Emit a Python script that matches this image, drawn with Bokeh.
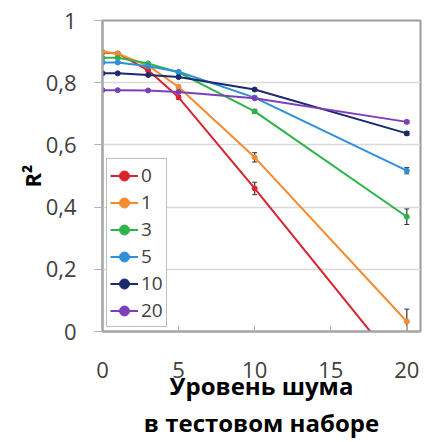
from bokeh.plotting import figure
from bokeh.models import Range1d, FixedTicker, CustomJSTickFormatter, Legend, LegendItem, Whisker, ColumnDataSource
from bokeh.embed import file_html
from bokeh.resources import INLINE

noise = [0, 1, 3, 5, 10, 20]
series_names = ["0", "1", "3", "5", "10", "20"]
r2_0 = [0.897, 0.894, 0.84, 0.753, 0.46, -0.145]
r2_1 = [0.900, 0.893, 0.855, 0.786, 0.56, 0.032]
r2_3 = [0.880, 0.880, 0.862, 0.833, 0.708, 0.369]
r2_5 = [0.865, 0.865, 0.853, 0.835, 0.752, 0.517]
r2_10 = [0.830, 0.830, 0.825, 0.818, 0.778, 0.637]
r2_20 = [0.776, 0.776, 0.775, 0.770, 0.750, 0.674]
err_0 = [0.003, 0.003, 0.004, 0.006, 0.02, 0.03]
err_1 = [0.003, 0.003, 0.004, 0.006, 0.015, 0.04]
err_3 = [0.002, 0.002, 0.003, 0.004, 0.006, 0.025]
err_5 = [0.002, 0.002, 0.003, 0.003, 0.005, 0.01]
err_10 = [0.002, 0.002, 0.002, 0.003, 0.004, 0.006]
err_20 = [0.002, 0.002, 0.002, 0.002, 0.003, 0.005]
colors = ["#d9232e", "#f58a2e", "#2db34a", "#2f8fd8", "#1a2a6c", "#7b3fb8"]
x_ticks = [0, 5, 10, 15, 20]
y_ticks = [0, 0.2, 0.4, 0.6, 0.8, 1.0]
x_title = "Уровень шума\nв тестовом наборе"
y_title = "R²"

all_vals = [r2_0, r2_1, r2_3, r2_5, r2_10, r2_20]
all_errs = [err_0, err_1, err_3, err_5, err_10, err_20]

p = figure(width=431, height=442, output_backend="svg", toolbar_location=None,
           x_range=Range1d(0, 20.9), y_range=Range1d(0, 1),
           min_border_left=102, min_border_top=20, min_border_right=11, min_border_bottom=110)
p.background_fill_color = "white"
p.border_fill_color = "white"
p.outline_line_color = "#9a9a9a"
p.outline_line_width = 2

p.xgrid.visible = False
p.ygrid.grid_line_color = "#d9d9d9"
p.ygrid.grid_line_width = 1.5

font = "Open Sans"
p.xaxis.ticker = FixedTicker(ticks=x_ticks)
p.yaxis.ticker = FixedTicker(ticks=y_ticks)
p.yaxis.formatter = CustomJSTickFormatter(code="""
if (Math.abs(tick - Math.round(tick)) < 1e-9) { return tick.toFixed(0); }
return tick.toFixed(1).replace('.', ',');
""")
for ax in (p.xaxis[0], p.yaxis[0]):
    ax.axis_line_color = "#a6a6a6"
    ax.axis_line_width = 2
    ax.major_tick_line_color = "#b0b0b0"
    ax.minor_tick_line_color = None
    ax.major_label_text_font = font
    ax.major_label_text_font_size = "22px"
    ax.major_label_text_color = "#404040"
    ax.axis_label_text_font = font
    ax.axis_label_text_font_style = "bold"
    ax.axis_label_text_font_size = "22px"
    ax.axis_label_text_color = "#000000"

p.yaxis.major_tick_out = 8
p.yaxis.major_tick_in = 0
p.yaxis.major_label_standoff = 18
p.yaxis.axis_label = y_title
p.yaxis.axis_label_standoff = -4

p.xaxis.major_tick_out = 0
p.xaxis.major_tick_in = 6
p.xaxis.major_label_standoff = 30
p.xaxis.axis_label = x_title
p.xaxis.axis_label_text_font_size = "24px"
p.xaxis.axis_label_text_line_height = 1.15
p.xaxis.axis_label_standoff = -12

items = []
for name, vals, errs, col in zip(series_names, all_vals, all_errs, colors):
    src = ColumnDataSource(dict(x=noise, y=vals,
                                up=[v + e for v, e in zip(vals, errs)],
                                lo=[v - e for v, e in zip(vals, errs)]))
    w = Whisker(source=src, base="x", upper="up", lower="lo", line_color="#333333", line_width=1.2)
    w.upper_head.size = 5
    w.lower_head.size = 5
    w.upper_head.line_color = "#333333"
    w.lower_head.line_color = "#333333"
    p.add_layout(w)
    l = p.line("x", "y", source=src, line_color=col, line_width=2)
    c = p.scatter("x", "y", source=src, size=5, marker="circle", fill_color=col, line_color=col)
    items.append(LegendItem(label=name, renderers=[l, c]))

legend = Legend(items=items, location=(4, 4))
legend.label_text_font = font
legend.label_text_font_size = "19px"
legend.label_text_color = "#404040"
legend.glyph_width = 28
legend.glyph_height = 25
legend.label_height = 25
legend.label_standoff = 3
legend.spacing = 1
legend.padding = 3
legend.margin = 0
legend.border_line_color = "#7f7f7f"
legend.border_line_width = 1.5
legend.background_fill_color = "white"
legend.background_fill_alpha = 1
p.add_layout(legend, "center")

open("out.html", "w").write(file_html(p, INLINE))
